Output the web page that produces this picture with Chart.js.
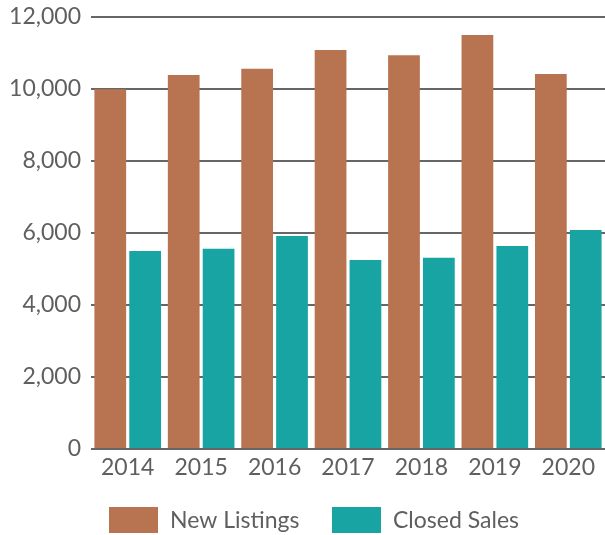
<!DOCTYPE html>
<html>
<head>
<meta charset="utf-8">
<script src="https://cdn.jsdelivr.net/npm/chart.js@4"></script>
<style>
  html, body { margin: 0; padding: 0; background: #fff; overflow: hidden; }
  #wrap { width: 605px; height: 535px; }
</style>
</head>
<body>
<div id="wrap"><canvas id="listingsChart"></canvas></div>
<script>
const years = ['2014', '2015', '2016', '2017', '2018', '2019', '2020'];
const newListings = [9990, 10390, 10560, 11080, 10940, 11500, 10420];
const closedSales = [5500, 5560, 5920, 5250, 5310, 5640, 6080];
const yTicks = [0, 2000, 4000, 6000, 8000, 10000, 12000];

const textColor = '#5f5f5f';
const fontFamily = 'Lato, "Open Sans", sans-serif';

// legend drawn under the axis labels, boxes sit at fixed spots
const bottomLegend = {
    id: 'bottomLegend',
    afterDraw(chart) {
        const ctx = chart.ctx;
        const boxX = [109, 332];
        ctx.save();
        ctx.font = '23px ' + fontFamily;
        ctx.textBaseline = 'middle';
        chart.data.datasets.forEach((ds, i) => {
            ctx.fillStyle = ds.backgroundColor;
            ctx.fillRect(boxX[i], 507, 49, 26);
            ctx.fillStyle = textColor;
            ctx.fillText(ds.label, boxX[i] + 61, 521);
        });
        ctx.restore();
    }
};

const ctx = document.getElementById('listingsChart').getContext('2d');
new Chart(ctx, {
    type: 'bar',
    data: {
        labels: years,
        datasets: [{
            label: 'New Listings',
            data: newListings,
            backgroundColor: '#b87350',
            categoryPercentage: 0.95,
            barPercentage: 0.91
        }, {
            label: 'Closed Sales',
            data: closedSales,
            backgroundColor: '#17a4a2',
            categoryPercentage: 0.95,
            barPercentage: 0.91
        }]
    },
    options: {
        responsive: true,
        maintainAspectRatio: false,
        animation: false,
        layout: { padding: { top: 17, right: 0, bottom: 50, left: 0 } },
        plugins: {
            legend: { display: false },
            tooltip: { enabled: false }
        },
        scales: {
            x: {
                grid: { display: false },
                border: { display: false },
                ticks: {
                    color: textColor,
                    font: { family: fontFamily, size: 23 },
                    padding: -3,
                    maxRotation: 0
                },
                afterFit(scale) { scale.height = 36; }
            },
            y: {
                min: 0,
                max: 12000,
                afterBuildTicks(scale) {
                    scale.ticks = yTicks.map(v => ({ value: v }));
                },
                grid: { color: '#666666', lineWidth: 2, drawTicks: false },
                border: { display: false },
                ticks: {
                    color: textColor,
                    font: { family: fontFamily, size: 23 },
                    padding: 10,
                    callback: v => v.toLocaleString('en-US')
                },
                afterFit(scale) {
                    scale.width = 91;
                    scale.paddingTop = 0;
                    scale.paddingBottom = 0;
                }
            }
        }
    },
    plugins: [bottomLegend]
});
</script>
</body>
</html>
